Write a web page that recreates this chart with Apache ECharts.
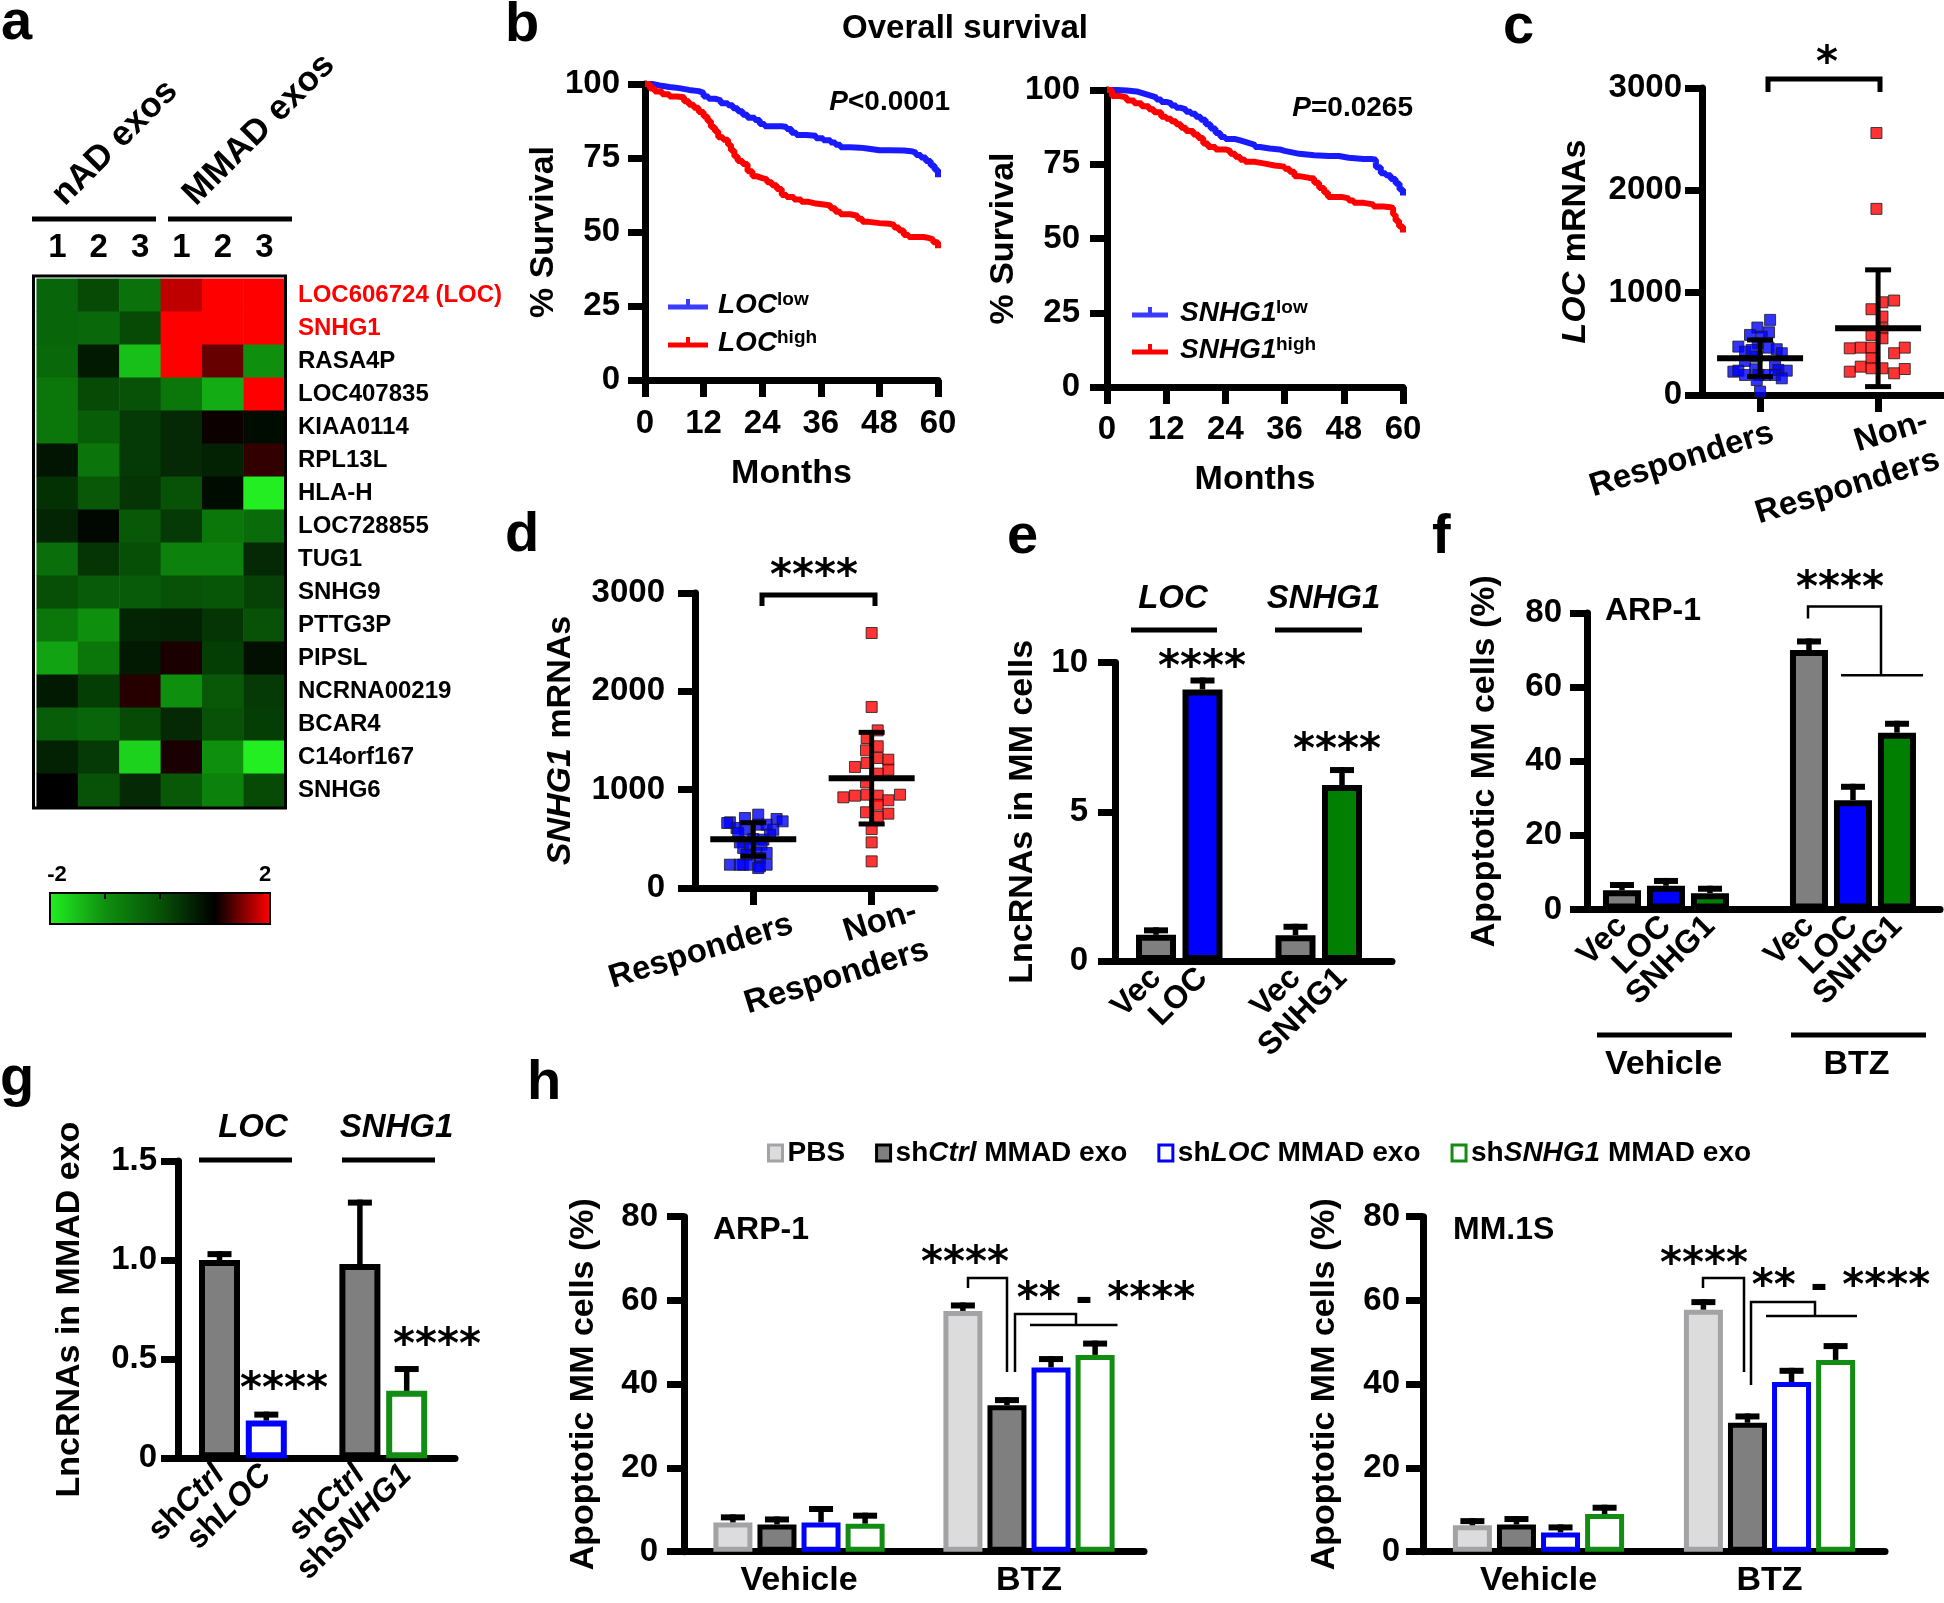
<!DOCTYPE html>
<html>
<head>
<meta charset="utf-8">
<script src="https://cdn.jsdelivr.net/npm/echarts@6/dist/echarts.min.js"></script>
<style>
html,body{margin:0;padding:0;background:#ffffff;}
#chart{width:1944px;height:1603px;}
</style>
</head>
<body>
<div id="chart"></div>
<script>
// ===================== DATA =====================
// (a) heatmap
const heatGenes = ['LOC606724 (LOC)','SNHG1','RASA4P','LOC407835','KIAA0114','RPL13L','HLA-H','LOC728855','TUG1','SNHG9','PTTG3P','PIPSL','NCRNA00219','BCAR4','C14orf167','SNHG6'];
const heatSamples = ['nAD 1','nAD 2','nAD 3','MMAD 1','MMAD 2','MMAD 3'];
const heatValues = [
  [-0.3, 0.1, -0.5, 1.75, 2, 2],
  [-0.3, -0.35, 0.1, 2, 2, 2],
  [-0.35, 0.7, -1.5, 2, 1.4, -1.0],
  [-0.6, 0.1, 0.0, -0.6, -1.3, 2],
  [-0.6, -0.2, 0.3, 0.5, 1.05, 0.85],
  [0.75, -0.55, 0.3, 0.5, 0.6, 1.2],
  [0.4, -0.1, 0.35, 0.0, 0.85, -2],
  [0.55, 0.9, -0.1, 0.3, -0.6, -0.4],
  [-0.45, 0.35, 0.05, -0.75, -0.75, 0.5],
  [0.05, -0.15, -0.15, 0.0, -0.05, 0.2],
  [-0.6, -1.0, 0.55, 0.6, 0.35, 0.0],
  [-1.2, -0.6, 0.7, 1.1, 0.25, 0.8],
  [0.7, 0.25, 1.15, -1.0, -0.1, 0.3],
  [-0.2, -0.3, 0.1, 0.5, 0.0, 0.25],
  [0.6, 0.3, -1.7, 1.1, -1.0, -2],
  [1.0, 0.0, 0.5, -0.1, -0.75, 0.1]
];
const heatHighlight = ['LOC606724 (LOC)','SNHG1'];
const heatRangeLabels = ['-2','2'];

// (b) Kaplan-Meier curves [month, % survival]
const kmLocLow = [[0,100],[1.5,99.5],[3,99],[5,98.6],[7,98],[9,97.6],[11,97],[12,95.8],[13,95],[14.5,94.5],[15.5,93.5],[17,92.8],[18,91.8],[19,90.8],[20,89.6],[21,88.6],[22.5,87.8],[23.5,86.5],[24.5,85.7],[28,85.5],[29,84.8],[30,83.5],[31,82.8],[33,82.5],[35,81.7],[36.5,81],[38,80.2],[39,79.5],[40,78.6],[42,78.5],[44,78.2],[45.5,77.6],[48,77.6],[50,77.5],[53,77.3],[54.5,76.8],[55.5,76],[56.5,75.2],[57.5,74],[58.5,72.5],[59.3,71],[60,68.5]];
const kmLocHigh = [[0,100],[1,98.5],[2,97.5],[3.5,96.5],[5,95.8],[6.5,95.5],[8,94.2],[9,93],[10,92],[11,90.5],[12,89],[12.8,87.5],[13.5,85.5],[14.3,84],[15,82],[16,81.2],[17,79.5],[17.6,77.5],[18.3,75.5],[19,74],[20,73],[21,70.5],[22,68.8],[23,68.2],[24,67.8],[25,66.8],[26,65.8],[27,64.5],[28,62.5],[29,61.8],[30.5,61],[32,60.2],[33.5,59.6],[35,59.2],[37,59],[38,58],[39,56.8],[40,56],[42,55.5],[43.5,54.5],[44.5,53.5],[45.5,53],[48,52.8],[50,52.5],[51,51.5],[52,50.5],[53,49],[54,48.3],[57,48],[58,47.5],[59,46.5],[60,44.5]];
const kmSnhgLow = [[0,100],[2,99.8],[4,99.5],[6,99],[7,98.5],[8,98],[9,97.5],[10,96.8],[11,96],[12,95.6],[13,94.8],[14,94],[15,93.5],[16,92.7],[17,92],[18,91],[19,90],[20,88.5],[21,87],[22,85.5],[23,84.2],[24,83.5],[26,83],[27,82.5],[28,82],[29,81.5],[30,80.8],[31,80.3],[33,80],[35,79.5],[36,79],[37.5,78.5],[39,78],[42,77.8],[45,77.8],[47,77.2],[49,76.8],[52,76.8],[53.5,76.5],[54.5,74],[55.5,72],[56.5,71.3],[57.5,70],[58.5,68.5],[59.3,66.5],[60,64.5]];
const kmSnhgHigh = [[0,100],[1,98],[2.5,97.5],[4,96.5],[5.5,95.5],[7,94.5],[8.5,93.5],[9.5,92.5],[11,91],[12,90.3],[13,89.5],[14,88.5],[15,87.3],[16,86.2],[17.5,85],[18.5,83.8],[19.5,82],[20.5,80.8],[22,80],[24,79.5],[25,78.5],[26,77.5],[27,76.5],[28,75.8],[30,75.2],[32,74.6],[34,74.2],[36,73.5],[37,72.5],[38,71],[39,70.4],[41,70.2],[42,68.8],[43,67],[44,65.5],[44.8,64],[47.5,63.5],[49,62.8],[50,62],[52,61.5],[54,60.8],[56,60.5],[57.5,60.3],[58,58],[58.5,56],[59.2,54],[60,52]];
const kmPvalues = ['<0.0001','=0.0265'];

// (c) LOC mRNAs, (d) SNHG1 mRNAs : [horizontal jitter (category units), value]
const responseGroups = ['Responders','Non-\nResponders'];
const cLocResp = [[0.085,734],[-0.023,659],[0.076,613],[-0.085,587],[0.014,571],[-0.02,505],[-0.184,473],[0.071,463],[0.141,447],[-0.127,424],[-0.071,440],[0.184,408],[-0.028,375],[-0.127,333],[0.127,293],[-0.226,228],[-0.184,238],[-0.042,251],[0.226,238],[0.155,245],[-0.014,196],[0.042,196],[0.127,196],[-0.127,196],[0.184,163],[-0.028,147],[0,33]];
const cLocNonResp = [[-0.014,2560],[-0.014,1819],[0.136,923],[0.037,906],[-0.056,838],[0.037,766],[0.037,652],[-0.056,587],[0.037,554],[-0.24,456],[-0.147,463],[-0.056,463],[0.226,463],[0.136,408],[-0.056,359],[-0.24,228],[-0.147,277],[-0.056,261],[0.037,261],[0.136,212],[0.226,254]];
const cLocStats = [[359,180,538],[652,82,1223]]; // mean, mean-SD, mean+SD
const dSnhgResp = [[-0.197,668],[-0.07,712],[0.042,746],[0.197,702],[0.248,678],[-0.141,610],[-0.07,593],[0.042,644],[0.113,644],[0.169,593],[-0.22,661],[0.141,542],[0.085,492],[0,498],[-0.113,464],[-0.085,407],[-0.028,424],[0.07,441],[0.028,356],[0.113,356],[-0.056,339],[0.056,305],[-0.085,237],[-0.028,237],[0.056,220],[0.113,237],[-0.197,237],[0.042,203],[-0.113,237],[-0.127,559]];
const dSnhgNonResp = [[0,2593],[0,1841],[0.051,1603],[-0.042,1525],[0.051,1441],[-0.048,1400],[0.051,1322],[0.141,1305],[-0.042,1271],[-0.141,1231],[0.141,1203],[0.051,1163],[-0.048,1075],[-0.239,922],[-0.141,939],[-0.042,949],[0.051,939],[0.239,949],[0.141,892],[0.051,847],[-0.048,770],[0.141,756],[0.051,722],[0,600],[0,464],[0,271]];
const dSnhgStats = [[495,325,664],[1116,651,1583]];

// (e) LncRNAs in MM cells
const eGroups = ['LOC','SNHG1'];
const eLabels = ['Vec','LOC','Vec','SNHG1'];
const eValues = [0.88, 9.1, 0.87, 5.9];
const eErrors = [0.15, 0.3, 0.28, 0.5];

// (f) ARP-1 apoptosis
const fGroups = ['Vehicle','BTZ'];
const fLabels = ['Vec','LOC','SNHG1','Vec','LOC','SNHG1'];
const fValues = [5.2, 6.4, 4.4, 70.0, 29.5, 47.7];
const fErrors = [1.4, 1.3, 1.2, 2.3, 3.6, 2.4];

// (g) LncRNAs in MMAD exo
const gGroups = ['LOC','SNHG1'];
const gLabels = ['shCtrl','shLOC','shCtrl','shSNHG1'];
const gValues = [1.0, 0.19, 0.98, 0.34];
const gErrors = [0.03, 0.03, 0.31, 0.11];

// (h) apoptosis with exosomes
const hTreatments = ['Vehicle','BTZ'];
const hSeriesNames = ['PBS','shCtrl MMAD exo','shLOC MMAD exo','shSNHG1 MMAD exo'];
const hArpValues = [[7.0,57.5],[6.5,35.0],[7.0,44.0],[6.7,47.0]];
const hArpErrors = [[1.2,1.3],[1.2,1.2],[3.2,2.0],[1.9,2.7]];
const hMmValues = [[6.3,57.8],[6.5,30.8],[4.6,40.5],[9.0,45.8]];
const hMmErrors = [[1.0,1.8],[1.3,1.5],[1.2,2.7],[1.5,3.3]];
const hCellLines = ['ARP-1','MM.1S'];

// ===================== STYLE =====================
const FF = '"Liberation Sans", Arial, Helvetica, sans-serif';
const SF = '"DejaVu Sans", sans-serif';
const BLACK = '#000000';
const BLUE = '#0000ff', RED = '#ff0000', GREEN = '#007f00', GRAY = '#7f7f7f';
const AXW = 7;      // axis line width
const TICKF = 33;   // tick label font size
const NAMEF = 34;   // axis title font size
const ROTF = 32;    // rotated bar label font size
const heatColors = ['#22ee22','#0e900e','#075207','#000000','#ff0000'];
const eFills = [GRAY, BLUE, GRAY, GREEN];
const fFills = [GRAY, BLUE, GREEN, GRAY, BLUE, GREEN];
const gFills = [GRAY, '#ffffff', GRAY, '#ffffff'];
const gBorders = [BLACK, BLUE, BLACK, '#138c13'];
const hFills = ['#dcdcdc', GRAY, '#ffffff', '#ffffff'];
const hBorders = ['#a3a3a6', BLACK, BLUE, '#138c13'];
const deg = Math.PI / 180;

function groupPositions(sizes, gap) {
  const out = []; let p = 0;
  sizes.forEach(n => { for (let i = 0; i < n; i++) out.push(p + i); p += n + gap; });
  return out;
}
const ePos = groupPositions([2, 2], 1);
const fPos = groupPositions([3, 3], 1.25);
const gPos = groupPositions([2, 2], 1);

const grids = [
  {left: 36.7, top: 278.7, width: 248.3, height: 528},     // a
  {left: 645, top: 84, width: 293, height: 296},           // b left
  {left: 1107, top: 90, width: 296, height: 297},          // b right
  {left: 1702, top: 88, width: 241, height: 307},          // c
  {left: 695, top: 593, width: 240, height: 295},          // d
  {left: 1115, top: 662.6, width: 277, height: 298.5},     // e
  {left: 1587, top: 612.9, width: 353, height: 296.6},     // f
  {left: 178, top: 1161, width: 277, height: 297.2},       // g
  {left: 684, top: 1216.7, width: 460, height: 335},       // h ARP-1
  {left: 1423, top: 1216.7, width: 462, height: 335}       // h MM.1S
].map(g => Object.assign({outerBoundsMode: 'none', containLabel: false}, g));

const italicRich = (size) => ({
  i: {fontStyle: 'italic', fontWeight: 'bold', fontSize: size, fontFamily: FF, color: BLACK},
  n: {fontWeight: 'bold', fontSize: size, fontFamily: FF, color: BLACK}
});

function axis(o) {
  const base = {
    axisLine: {show: true, onZero: false, lineStyle: {color: BLACK, width: AXW}},
    axisTick: {show: true, length: 17, lineStyle: {color: BLACK, width: AXW}},
    splitLine: {show: false},
    nameLocation: 'middle',
    nameTextStyle: {color: BLACK, fontSize: NAMEF, fontWeight: 'bold', fontFamily: FF, rich: italicRich(NAMEF)}
  };
  return Object.assign(base, o);
}
const plain = v => String(v);
const lab = (margin, extra) => Object.assign({color: BLACK, fontSize: TICKF, fontWeight: 'bold', fontFamily: FF, margin, formatter: plain,
  showMinLabel: true, showMaxLabel: true, hideOverlap: false}, extra || {});
const rotLab = (pos, fmt, rich) => lab(12, {fontSize: ROTF, rotate: 45, customValues: pos, formatter: fmt, rich});

const xAxes = [
  {type: 'category', gridIndex: 0, position: 'top', data: heatSamples,
   axisLine: {show: false}, axisTick: {show: false}, splitLine: {show: false},
   axisLabel: {interval: 0, color: BLACK, fontSize: 33, fontWeight: 'bold', fontFamily: FF, margin: 14, formatter: v => v.split(' ')[1]}},
  axis({type: 'value', gridIndex: 1, min: 0, max: 60, interval: 12, axisLabel: lab(27), name: 'Months', nameGap: 77}),
  axis({type: 'value', gridIndex: 2, min: 0, max: 60, interval: 12, axisLabel: lab(26), name: 'Months', nameGap: 76}),
  axis({type: 'value', gridIndex: 3, min: 0.508, max: 2.55, axisTick: {show: true, length: 17, customValues: [1, 2], lineStyle: {color: BLACK, width: AXW}}, axisLabel: {show: false}}),
  axis({type: 'value', gridIndex: 4, min: 0.508, max: 2.535, axisTick: {show: true, length: 17, customValues: [1, 2], lineStyle: {color: BLACK, width: AXW}}, axisLabel: {show: false}}),
  axis({type: 'value', gridIndex: 5, min: -0.8817, max: 5.075, axisTick: {show: false},
        axisLabel: rotLab(ePos, v => eLabels[ePos.indexOf(v)])}),
  // (f) labels are placed below via the axis' own coordinate conversion (axis auto-hides overlapping labels)
  axis({type: 'value', gridIndex: 6, min: -0.795, max: 7.228, axisTick: {show: false}, axisLabel: {show: false}}),
  axis({type: 'value', gridIndex: 7, min: -0.8868, max: 5.032, axisTick: {show: false},
        axisLabel: rotLab(gPos, v => { const s = gLabels[gPos.indexOf(v)]; return '{n|sh}{i|' + s.slice(2) + '}'; }, italicRich(ROTF))}),
  axis({type: 'category', gridIndex: 8, data: hTreatments, axisTick: {show: false}, axisLabel: lab(12, {fontSize: 34, interval: 0})}),
  axis({type: 'category', gridIndex: 9, data: hTreatments, axisTick: {show: false}, axisLabel: lab(12, {fontSize: 34, interval: 0})})
];

const yAxes = [
  {type: 'category', gridIndex: 0, position: 'right', inverse: true, data: heatGenes,
   axisLine: {show: false}, axisTick: {show: false}, splitLine: {show: false},
   axisLabel: {interval: 0, fontSize: 24, fontWeight: 'bold', fontFamily: FF, margin: 13,
               color: v => heatHighlight.includes(v) ? RED : BLACK}},
  axis({type: 'value', gridIndex: 1, min: 0, max: 100, interval: 25, axisLabel: lab(25), name: '% Survival', nameGap: 72}),
  axis({type: 'value', gridIndex: 2, min: 0, max: 100, interval: 25, axisLabel: lab(27), name: '% Survival', nameGap: 74}),
  axis({type: 'value', gridIndex: 3, min: 0, max: 3000, interval: 1000, axisLabel: lab(20), name: '{i|LOC}{n| mRNAs}', nameGap: 109}),
  axis({type: 'value', gridIndex: 4, min: 0, max: 3000, interval: 1000, axisLabel: lab(30), name: '{i|SNHG1}{n| mRNAs}', nameGap: 117}),
  axis({type: 'value', gridIndex: 5, min: 0, max: 10, interval: 5, axisLabel: lab(27), name: 'LncRNAs in MM cells', nameGap: 75}),
  axis({type: 'value', gridIndex: 6, min: 0, max: 80, interval: 20, axisLabel: lab(25), name: 'Apoptotic MM cells (%)', nameGap: 85}),
  axis({type: 'value', gridIndex: 7, min: 0, max: 1.5, interval: 0.5, axisLabel: lab(21, {formatter: v => v === 0 ? '0' : v.toFixed(1)}), name: 'LncRNAs in MMAD exo', nameGap: 91}),
  axis({type: 'value', gridIndex: 8, min: 0, max: 80, interval: 20, axisLabel: lab(26), name: 'Apoptotic MM cells (%)', nameGap: 83}),
  axis({type: 'value', gridIndex: 9, min: 0, max: 80, interval: 20, axisLabel: lab(23), name: 'Apoptotic MM cells (%)', nameGap: 81})
];

// ---------- renderers ----------
function seg(x1, y1, x2, y2, w, color) {
  return {type: 'line', shape: {x1, y1, x2, y2}, style: {stroke: color || BLACK, lineWidth: w}};
}
function errRender(capHalf, offsetFn) {
  return function (params, api) {
    const v = api.value(1), e = api.value(2);
    const b = api.coord([api.value(0), v]);
    const t = api.coord([api.value(0), v + e]);
    const dx = offsetFn ? offsetFn(api) : 0;
    const x = b[0] + dx;
    return {type: 'group', children: [
      seg(x, b[1], x, t[1] - 3, 5.5),
      seg(x - capHalf, t[1], x + capHalf, t[1], 6)
    ]};
  };
}
function meanSdRender(params, api) {
  const x = api.value(0);
  const pm = api.coord([x, api.value(1)]);
  const pl = api.coord([x, api.value(2)]);
  const ph = api.coord([x, api.value(3)]);
  return {type: 'group', children: [
    seg(pl[0], pl[1], ph[0], ph[1], 5),
    seg(pl[0] - 13, pl[1], pl[0] + 13, pl[1], 5),
    seg(ph[0] - 13, ph[1], ph[0] + 13, ph[1], 5),
    seg(pm[0] - 43, pm[1], pm[0] + 43, pm[1], 6)
  ]};
}

// ---------- series ----------
const series = [];
series.push({type: 'heatmap', xAxisIndex: 0, yAxisIndex: 0, silent: true,
  data: heatValues.flatMap((row, r) => row.map((v, c) => [c, r, v])),
  itemStyle: {borderWidth: 0}, emphasis: {disabled: true}});

function km(data, color, gi) {
  return {type: 'line', xAxisIndex: gi, yAxisIndex: gi, data, step: 'end', showSymbol: false, symbol: 'none',
    clip: false, silent: true, lineStyle: {color, width: 6}, itemStyle: {color}, emphasis: {disabled: true}, z: 3};
}
series.push(km(kmLocLow, '#1a1aff', 1), km(kmLocHigh, RED, 1), km(kmSnhgLow, '#1a1aff', 2), km(kmSnhgHigh, RED, 2));

function dots(gi, cat, pts, color) {
  return {type: 'scatter', xAxisIndex: gi, yAxisIndex: gi, symbol: 'rect', symbolSize: 11, silent: true, clip: false,
    data: pts.map(p => [cat + p[0], p[1]]), itemStyle: {color, borderColor: '#1a1a1a', borderWidth: 1}, z: 3};
}
function meanSd(gi, stats) {
  return {type: 'custom', xAxisIndex: gi, yAxisIndex: gi, silent: true, clip: false, z: 5,
    data: stats.map((s, i) => [i + 1, s[0], s[1], s[2]]), renderItem: meanSdRender};
}
series.push(dots(3, 1, cLocResp, BLUE), dots(3, 2, cLocNonResp, RED), meanSd(3, cLocStats));
series.push(dots(4, 1, dSnhgResp, BLUE), dots(4, 2, dSnhgNonResp, RED), meanSd(4, dSnhgStats));

function bars(gi, pos, vals, fills, borders, bw) {
  return {type: 'bar', xAxisIndex: gi, yAxisIndex: gi, barWidth: bw, silent: true,
    data: vals.map((v, i) => ({value: [pos[i], v], itemStyle: {color: fills[i], borderColor: borders ? borders[i] : BLACK, borderWidth: 6}}))};
}
function errs(gi, pos, vals, es) {
  return {type: 'custom', xAxisIndex: gi, yAxisIndex: gi, silent: true, clip: false, z: 5,
    data: vals.map((v, i) => [pos[i], v, es[i]]), renderItem: errRender(12)};
}
series.push(bars(5, ePos, eValues, eFills, null, 40), errs(5, ePos, eValues, eErrors));
series.push(bars(6, fPos, fValues, fFills, null, 38), errs(6, fPos, fValues, fErrors));
series.push(bars(7, gPos, gValues, gFills, gBorders, 41), errs(7, gPos, gValues, gErrors));

const H_PITCH = 44.07;
function hBars(gi, values, errors) {
  hSeriesNames.forEach((name, si) => {
    series.push({type: 'bar', name, xAxisIndex: gi, yAxisIndex: gi, barWidth: 39, barGap: '13%', silent: true,
      data: values[si], itemStyle: {color: hFills[si], borderColor: hBorders[si], borderWidth: 5}});
  });
  const data = [];
  values.forEach((row, si) => row.forEach((v, ti) => data.push([ti, v, errors[si][ti], si])));
  series.push({type: 'custom', xAxisIndex: gi, yAxisIndex: gi, silent: true, clip: false, z: 5, data,
    renderItem: errRender(12, api => (api.value(3) - 1.5) * H_PITCH)});
}
hBars(8, hArpValues, hArpErrors);
hBars(9, hMmValues, hMmErrors);

// ---------- annotations ----------
function txt(x, y, text, size, o) {
  o = o || {};
  const style = {text, fill: o.color || BLACK,
    font: (o.italic ? 'italic ' : '') + 'bold ' + size + 'px ' + (o.family || FF),
    align: o.align || 'left', verticalAlign: o.va || 'middle'};
  if (o.lh) style.lineHeight = o.lh;
  if (o.rich) style.rich = o.rich;
  return {type: 'text', x, y, z: 100, silent: true, rotation: o.rot || 0, style};
}
function pl(points, w, color) {
  return {type: 'polyline', z: 100, silent: true, shape: {points}, style: {stroke: color || BLACK, lineWidth: w, fill: null}};
}
const STAR = {family: SF, align: 'center'};
const pRich = {i: {fontStyle: 'italic', fontWeight: 'bold', fontSize: 28, fontFamily: FF, color: BLACK},
               n: {fontWeight: 'bold', fontSize: 28, fontFamily: FF, color: BLACK}};

const g = [];
// panel letters
[['a',1,23.4],['b',505,25.4],['c',1503,27.4],['d',505,535.4],['e',1007,537.4],['f',1432,537.4],['g',0,1080],['h',527,1083.4]]
  .forEach(([t, x, y]) => g.push(txt(x, y, t, 56)));
// (a)
g.push(pl([[32,219],[156,219]], 5), pl([[168,219],[292,219]], 5));
g.push(txt(58, 200, 'nAD exos', 35, {rot: 45 * deg}), txt(189, 200, 'MMAD exos', 35, {rot: 45 * deg}));
g.push({type: 'rect', z: 100, silent: true, shape: {x: 33.5, y: 276, width: 252, height: 532}, style: {fill: 'none', stroke: BLACK, lineWidth: 3}});
g.push({type: 'rect', z: 100, silent: true, shape: {x: 50, y: 893, width: 220, height: 31}, style: {fill: 'none', stroke: BLACK, lineWidth: 2}});
[105, 160, 215].forEach(x => g.push(pl([[x,893],[x,899]], 2)));
g.push(txt(57, 875, heatRangeLabels[0], 22, {align: 'center'}), txt(265, 875, heatRangeLabels[1], 22, {align: 'center'}));
// (b)
g.push(txt(965, 28.5, 'Overall survival', 33, {align: 'center'}));
g.push(txt(950, 102, '{i|P}{n|' + kmPvalues[0] + '}', 28, {align: 'right', rich: pRich}));
g.push(txt(1413, 108, '{i|P}{n|' + kmPvalues[1] + '}', 28, {align: 'right', rich: pRich}));
function kmLegend(x0, x1, y, color, gene, sup, tx, supx) {
  g.push(pl([[x0,y],[x1,y]], 5, color), pl([[(x0+x1)/2,y],[(x0+x1)/2,y-8]], 4, color));
  g.push(txt(tx, y - 2, gene, 28, {italic: true}), txt(supx, y - 7, sup, 19));
}
kmLegend(668, 708, 307, '#3b3bff', 'LOC', 'low', 718, 777);
kmLegend(668, 708, 345, RED, 'LOC', 'high', 718, 777);
kmLegend(1132, 1168, 315, '#3b3bff', 'SNHG1', 'low', 1180, 1276);
kmLegend(1132, 1168, 352, RED, 'SNHG1', 'high', 1180, 1276);
// (c) (d)
g.push(pl([[1768,92],[1768,79],[1880,79],[1880,92]], 5), txt(1827, 64.6, '*', 42, STAR));
g.push(pl([[762,606],[762,595],[875,595],[875,606]], 5), txt(814, 577.6, '****', 42, STAR));
g.push(txt(1681.7, 460, responseGroups[0], 33, {align: 'center', rot: 17 * deg}));
g.push(txt(1933, 440, responseGroups[1], 33, {align: 'right', rot: 17 * deg, lh: 40}));
g.push(txt(701, 951.5, responseGroups[0], 33, {align: 'center', rot: 17 * deg}));
g.push(txt(922, 930, responseGroups[1], 33, {align: 'right', rot: 17 * deg, lh: 40}));
// (e)
g.push(txt(1173, 598.5, eGroups[0], 33, {italic: true, align: 'center'}), txt(1323.5, 598.5, eGroups[1], 33, {italic: true, align: 'center'}));
g.push(pl([[1131,630],[1217,630]], 5), pl([[1275,630],[1362,630]], 5));
g.push(txt(1202, 668.6, '****', 42, STAR), txt(1337, 751.6, '****', 42, STAR));
// (f)
g.push(txt(1605, 611.5, hCellLines[0], 32));
g.push(txt(1840, 589.6, '****', 42, STAR));
g.push(pl([[1808,618.6],[1808,606.4],[1881,606.4],[1881,675.3]], 2.5), pl([[1841,675.3],[1923,675.3]], 2.5));
g.push(pl([[1597,1035],[1732,1035]], 5), pl([[1791,1035],[1926,1035]], 5));
g.push(txt(1663.5, 1064.5, fGroups[0], 34, {align: 'center'}), txt(1856.5, 1064.5, fGroups[1], 34, {align: 'center'}));
// (g)
g.push(txt(253, 1128, gGroups[0], 33, {italic: true, align: 'center'}), txt(396.5, 1128, gGroups[1], 33, {italic: true, align: 'center'}));
g.push(pl([[199,1160],[292,1160]], 5), pl([[342,1160],[435,1160]], 5));
g.push(txt(284, 1391, '****', 42, STAR), txt(437, 1347, '****', 42, STAR));
// (h)
g.push(txt(713, 1230, hCellLines[0], 32), txt(1453, 1230, hCellLines[1], 32));
g.push(txt(965, 1264.6, '****', 42, STAR), txt(1106, 1301, '** - ****', 42, STAR));
g.push(pl([[968,1288],[968,1278],[1007,1278],[1007,1372]], 2.5), pl([[1015,1372],[1015,1314],[1076,1314],[1076,1325]], 2.5), pl([[1030,1325],[1117.5,1325]], 2.5));
g.push(txt(1704, 1266, '****', 42, STAR), txt(1841, 1287.6, '** - ****', 42, STAR));
g.push(pl([[1703,1288],[1703,1278],[1744,1278],[1744,1372]], 2.5), pl([[1751,1385],[1751,1302],[1815,1302],[1815,1316]], 2.5), pl([[1766,1316],[1857,1316]], 2.5));

function legendFmt(name) {
  const m = name.match(/^sh(\S+)( MMAD exo)$/);
  return m ? '{n|sh}{i|' + m[1] + '}{n|' + m[2] + '}' : '{n|' + name + '}';
}

const option = {
  animation: false,
  backgroundColor: '#ffffff',
  textStyle: {fontFamily: FF},
  grid: grids,
  xAxis: xAxes,
  yAxis: yAxes,
  visualMap: {type: 'continuous', min: -2, max: 2, seriesIndex: 0, orient: 'horizontal', left: 50, top: 893,
    itemWidth: 31, itemHeight: 220, calculable: false, hoverLink: false, padding: 0, inRange: {color: heatColors}},
  legend: {data: hSeriesNames, left: 762, top: 1134, itemGap: 30, itemWidth: 14, itemHeight: 16, selectedMode: false,
    icon: 'rect', itemStyle: {borderWidth: 3}, formatter: legendFmt,
    textStyle: {fontSize: 28, fontWeight: 'bold', color: BLACK, fontFamily: FF, rich: italicRich(28)}},
  series,
  graphic: {elements: g}
};

const chart = echarts.init(document.getElementById('chart'), null, {renderer: 'canvas', width: 1944, height: 1603});
chart.setOption(option);

// (f) category labels: anchored at the f x-axis positions, rotated like axis labels
const fLabelEls = fPos.map((p, i) => {
  const pt = chart.convertToPixel({xAxisIndex: 6, yAxisIndex: 6}, [p, 0]);
  return txt(pt[0], pt[1] + 12, fLabels[i], ROTF, {align: 'right', rot: 45 * deg});
});
chart.setOption({graphic: {elements: g.concat(fLabelEls)}});
</script>
</body>
</html>
